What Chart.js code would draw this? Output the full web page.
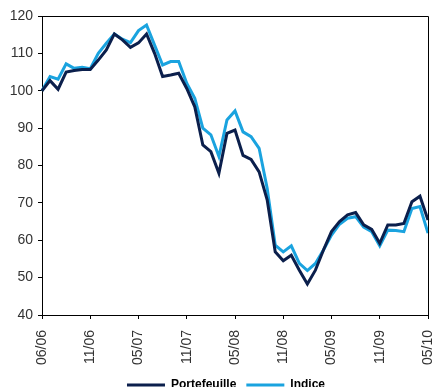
<!DOCTYPE html>
<html>
<head>
<meta charset="utf-8">
<script src="https://cdn.jsdelivr.net/npm/chart.js@4.4.1/dist/chart.umd.min.js"></script>
<style>
    html, body { margin: 0; padding: 0; background: #fff; overflow: hidden; }
    #wrap { width: 432px; height: 401px; }
</style>
</head>
<body>
<div id="wrap"><canvas id="perfChart" width="432" height="401"></canvas></div>
<script>
// tick labels shown every 6 months
const tickLabels = ['06/06', '11/06', '05/07', '11/07', '05/08', '11/08', '05/09', '11/09', '05/10'];
const tickEvery = 6;

// monthly values, base 100
const portefeuille = [100, 102.7, 100.4, 105, 105.4, 105.7, 105.7, 108.2, 110.9, 115.2,
    113.6, 111.6, 112.8, 115.2, 110, 103.8, 104.2, 104.7, 100.6, 95.7,
    85.5, 83.7, 77.9, 88.6, 89.5, 82.7, 81.6, 78.3, 70.8, 56.9,
    54.5, 56, 52, 48.3, 52, 57.4, 62.3, 65, 66.8, 67.4,
    64.1, 62.9, 59.2, 64.1, 64.1, 64.5, 70.3, 71.8, 65.4];
const indice = [100, 103.8, 103.1, 107.2, 106, 106.3, 105.9, 110, 112.7, 115.2,
    113.8, 112.9, 116.1, 117.6, 112.2, 106.9, 107.8, 107.8, 102, 98,
    90, 88.2, 82.4, 92.2, 94.6, 89, 87.7, 84.6, 73.9, 58.7,
    56.9, 58.5, 53.8, 51.9, 53.8, 57.4, 61.4, 64.3, 65.9, 66.3,
    63.5, 62.3, 58.5, 62.7, 62.6, 62.3, 68.5, 69, 61.9];

const categories = portefeuille.map((v, i) => i);

// box round the plot area (top and right sides), legend nudged to the right
const frame = {
    id: 'frame',
    afterLayout(chart) {
        chart.legend.left += 12;
        chart.legend.right += 12;
    },
    afterDraw(chart) {
        const a = chart.chartArea;
        const ctx = chart.ctx;
        ctx.save();
        ctx.strokeStyle = '#000';
        ctx.lineWidth = 1;
        ctx.beginPath();
        ctx.moveTo(Math.round(a.left) + 0.5, Math.round(a.top) + 0.5);
        ctx.lineTo(Math.round(a.right) + 0.5, Math.round(a.top) + 0.5);
        ctx.lineTo(Math.round(a.right) + 0.5, Math.round(a.bottom) + 0.5);
        ctx.stroke();
        ctx.restore();
    }
};

const ctx = document.getElementById('perfChart').getContext('2d');
new Chart(ctx, {
    type: 'line',
    data: {
        labels: categories,
        datasets: [{
            label: 'Portefeuille',
            data: portefeuille,
            borderColor: '#0b1f4c',
            backgroundColor: '#0b1f4c',
            borderWidth: 3,
            pointRadius: 0,
            pointStyle: 'line',
            tension: 0
        }, {
            label: 'Indice',
            data: indice,
            borderColor: '#1aa3df',
            backgroundColor: '#1aa3df',
            borderWidth: 3,
            pointRadius: 0,
            pointStyle: 'line',
            tension: 0
        }]
    },
    options: {
        responsive: false,
        animation: false,
        layout: { padding: { top: 16, right: 4, left: 0, bottom: 0 } },
        scales: {
            x: {
                type: 'category',
                offset: false,
                afterFit: (scale) => {
                    scale.height = 54;
                    scale.paddingLeft = 0;
                    scale.paddingRight = 0;
                },
                border: { color: '#000', width: 1 },
                grid: { drawOnChartArea: false, tickLength: 4, color: '#000' },
                ticks: {
                    autoSkip: false,
                    minRotation: 90,
                    maxRotation: 90,
                    padding: 11,
                    color: '#333',
                    font: { family: 'Liberation Sans', size: 14 },
                    callback: (v, i) => (i % tickEvery === 0 ? tickLabels[i / tickEvery] : null)
                }
            },
            y: {
                min: 40,
                max: 120,
                afterFit: (scale) => { scale.width = 42; },
                border: { color: '#000', width: 1 },
                grid: { drawOnChartArea: false, tickLength: 4, color: '#000' },
                ticks: {
                    stepSize: 10,
                    padding: 5,
                    color: '#333',
                    font: { family: 'Liberation Sans', size: 14 }
                }
            }
        },
        plugins: {
            tooltip: { enabled: false },
            legend: {
                position: 'bottom',
                labels: {
                    usePointStyle: true,
                    pointStyleWidth: 38,
                    color: '#000',
                    font: { family: 'Liberation Sans', size: 12, weight: 'bold' }
                }
            }
        }
    },
    plugins: [frame]
});
</script>
</body>
</html>
